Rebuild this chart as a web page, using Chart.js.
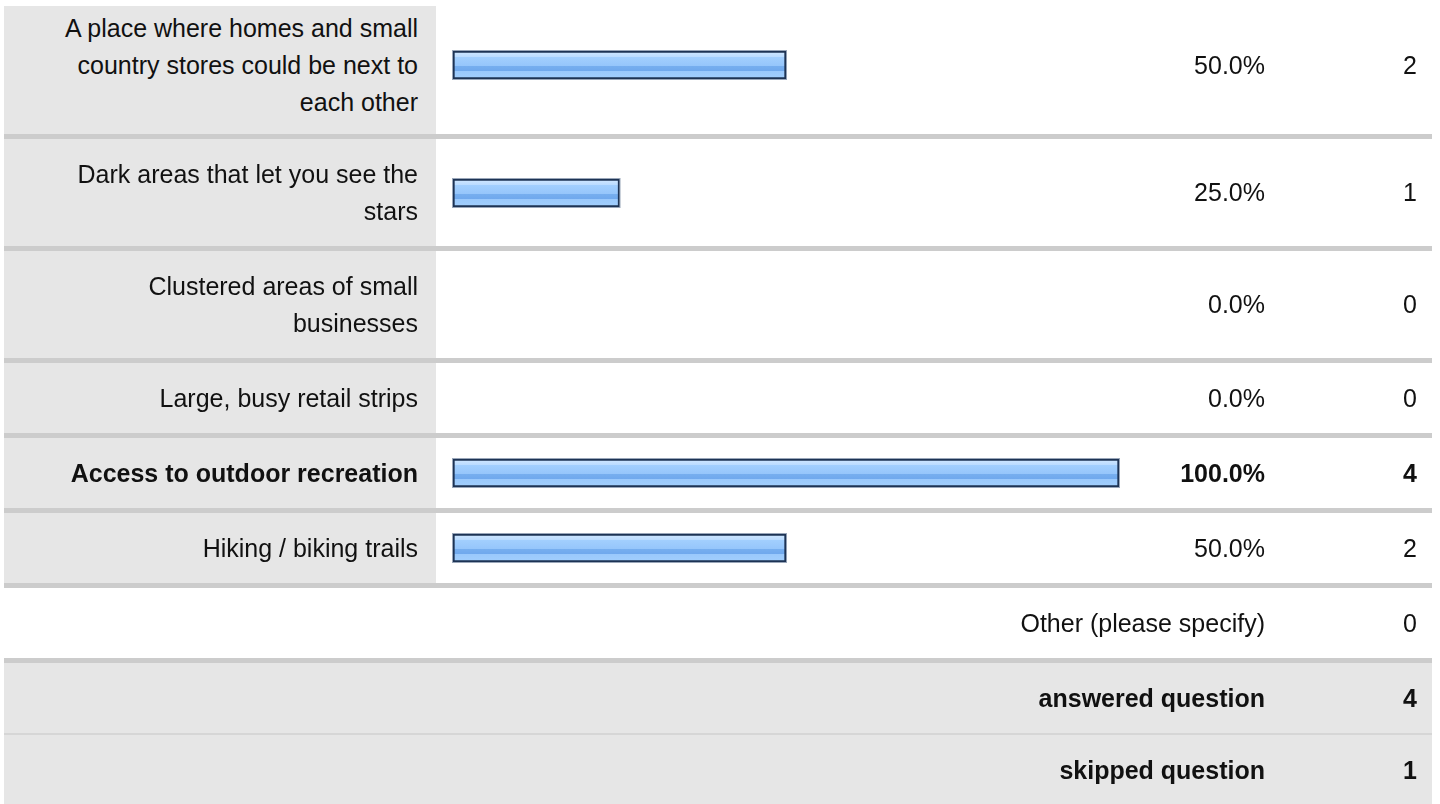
<!DOCTYPE html>
<html>
<head>
<meta charset="utf-8">
<script src="https://cdn.jsdelivr.net/npm/chart.js@4.4.1/dist/chart.umd.min.js"></script>
<style>
  html, body { margin:0; padding:0; background:#fff; }
  body { width:1440px; height:804px; overflow:hidden; font-family:"Liberation Sans", Arial, sans-serif; font-size:25px; color:#111; }
  #survey { position:absolute; left:4px; top:6px; width:1428px; }
  .row { display:flex; border-bottom:5px solid #ccc; box-sizing:content-box; }
  .row.tall3 { height:128px; }
  .row.tall2 { height:107px; }
  .row.one { height:70px; }
  .row.tall3 > div { padding-bottom:10px; box-sizing:border-box; }
  .row.foot { background:#e6e6e6; }
  .row.light { border-bottom:2px solid #d6d6d6; }
  .row.last { border-bottom:none; }
  .row > div { display:flex; align-items:center; line-height:37px; }
  .lab { width:432px; background:#e6e6e6; justify-content:flex-end; padding-right:18px; box-sizing:border-box; text-align:right; }
  .lab span { max-width:365px; }
  .bar { width:684px; padding-left:16px; box-sizing:border-box; }
  .pct { width:145px; justify-content:flex-end; }
  .cnt { width:152px; justify-content:flex-end; }
  .wide { width:1261px; justify-content:flex-end; }
  .b { font-weight:bold; }
</style>
</head>
<body>
<div id="survey"></div>
<script>
// answer options and response data
const answers = [
  'A place where homes and small country stores could be next to each other',
  'Dark areas that let you see the stars',
  'Clustered areas of small businesses',
  'Large, busy retail strips',
  'Access to outdoor recreation',
  'Hiking / biking trails',
];
const percents = [50.0, 25.0, 0.0, 0.0, 100.0, 50.0];
const counts   = [2, 1, 0, 0, 4, 2];
const rowSizes = ['tall3', 'tall2', 'tall2', 'one', 'one', 'one'];

const otherLabel = 'Other (please specify)';
const otherCount = 0;
const answeredLabel = 'answered question';
const answeredCount = 4;
const skippedLabel  = 'skipped question';
const skippedCount  = 1;

const wrap   = document.getElementById('survey');
const topPct = Math.max(...percents);

answers.forEach((a, i) => {
  const bold = percents[i] === topPct ? ' b' : '';
  const row = document.createElement('div');
  row.className = 'row ' + rowSizes[i];
  row.innerHTML = `
    <div class="lab${bold}"><span>${a}</span></div>
    <div class="bar"><canvas id="bar${i}" width="668" height="30"></canvas></div>
    <div class="pct${bold}">${percents[i].toFixed(1)}%</div>
    <div class="cnt${bold}">${counts[i]}</div>`;
  wrap.appendChild(row);
});

wrap.insertAdjacentHTML('beforeend', `
  <div class="row one"><div class="wide">${otherLabel}</div><div class="cnt">${otherCount}</div></div>
  <div class="row one foot light"><div class="wide b">${answeredLabel}</div><div class="cnt b">${answeredCount}</div></div>
  <div class="row one foot last"><div class="wide b">${skippedLabel}</div><div class="cnt b">${skippedCount}</div></div>
`);

// glossy blue fill, like the old survey bars
function barFill(ctx) {
  const area = ctx.chart.chartArea;
  if (!area) return '#99ccff';
  const g = ctx.chart.ctx.createLinearGradient(0, area.top, 0, area.bottom);
  g.addColorStop(0,    '#d2e9ff');
  g.addColorStop(0.2,  '#bcdcff');
  g.addColorStop(0.22, '#a2cffe');
  g.addColorStop(0.52, '#96c6fb');
  g.addColorStop(0.55, '#76aeef');
  g.addColorStop(0.7,  '#70a9ed');
  g.addColorStop(0.73, '#9ac9fc');
  g.addColorStop(1,    '#a2cffd');
  return g;
}

// faint outer edge around each bar
const outline = {
  id: 'outline',
  afterDatasetsDraw(chart) {
    const c = chart.ctx;
    chart.getDatasetMeta(0).data.forEach(el => {
      const { x, y, base, height } = el.getProps(['x', 'y', 'base', 'height'], true);
      if (x - base < 1) return;
      c.save();
      c.strokeStyle = 'rgba(110,128,155,0.7)';
      c.lineWidth = 1;
      c.strokeRect(base - 0.5, y - height / 2 - 0.5, x - base + 1, height + 1);
      c.restore();
    });
  }
};

answers.forEach((a, i) => {
  new Chart(document.getElementById('bar' + i), {
    type: 'bar',
    data: {
      labels: [a],
      datasets: [{
        data: [percents[i]],
        backgroundColor: barFill,
        borderColor: '#1d3354',
        borderWidth: 2,
        borderSkipped: false,
        barPercentage: 1,
        categoryPercentage: 1,
      }],
    },
    options: {
      indexAxis: 'y',
      responsive: false,
      animation: false,
      events: [],
      layout: { padding: 1 },
      scales: {
        x: { min: 0, max: 100, display: false },
        y: { display: false },
      },
      plugins: { legend: { display: false }, tooltip: { enabled: false } },
    },
    plugins: [outline],
  });
});
</script>
</body>
</html>
